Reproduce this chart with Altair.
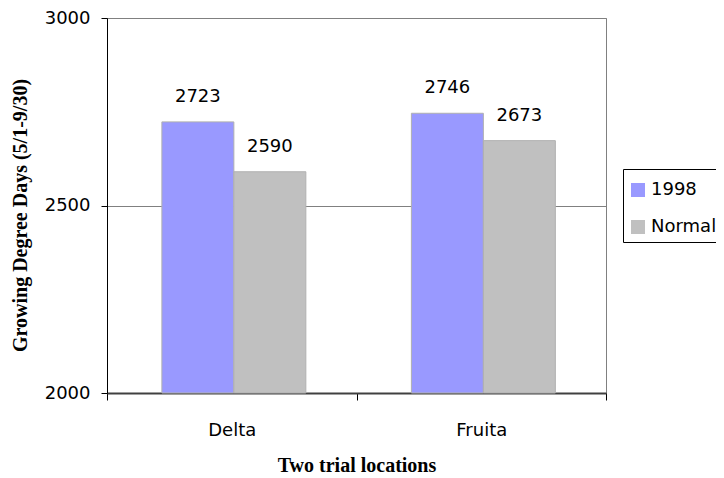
import altair as alt
import pandas as pd

locations = ["Delta", "Fruita"]
series = ["1998", "Normal"]
values_1998 = [2723, 2746]
values_normal = [2590, 2673]
colors = ["#9999FF", "#C0C0C0"]

rows = []
for i, loc in enumerate(locations):
    rows.append({"location": loc, "series": series[0], "value": values_1998[i]})
    rows.append({"location": loc, "series": series[1], "value": values_normal[i]})
df = pd.DataFrame(rows)

x_enc = alt.X(
    "location:N",
    sort=locations,
    scale=alt.Scale(paddingInner=0, paddingOuter=0),
    axis=alt.Axis(
        title="Two trial locations",
        labelAngle=0,
        tickBand="extent",
        tickSize=7,
        tickColor="#000000",
        domainColor="#404040",
        domainWidth=2,
        labelPadding=21,
        labelFont="DejaVu Sans",
        labelFontSize=18,
        labelColor="#000000",
        titleFont="Liberation Serif",
        titleFontSize=20,
        titleFontWeight="bold",
        titleColor="#000000",
        titlePadding=16,
        grid=False,
    ),
)
xoff = alt.XOffset(
    "series:N",
    sort=series,
    scale=alt.Scale(paddingInner=0, paddingOuter=0.733, align=0.52),
)

y_enc = alt.Y(
    "value:Q",
    scale=alt.Scale(domain=[2000, 3000], zero=False, nice=False),
    axis=alt.Axis(
        title="Growing Degree Days (5/1-9/30)",
        values=[2000, 2500, 3000],
        format="d",
        tickSize=6,
        tickColor="#000000",
        domainColor="#000000",
        labelPadding=11,
        labelFont="DejaVu Sans",
        labelFontSize=18,
        labelColor="#000000",
        titleFont="Liberation Serif",
        titleFontSize=20,
        titleFontWeight="bold",
        titleColor="#000000",
        titlePadding=14,
        titleY=197,
        grid=True,
        gridColor="#808080",
        gridWidth=1,
    ),
)

bars = alt.Chart(df).mark_bar(stroke="#B0B0B0", strokeWidth=1).encode(
    x=x_enc,
    xOffset=xoff,
    y=y_enc,
    y2=alt.datum(2000),
    color=alt.Color(
        "series:N",
        sort=series,
        scale=alt.Scale(domain=series, range=colors),
        legend=alt.Legend(
            orient="none",
            legendX=516,
            legendY=151,
            title=" ",
            titleFontSize=6,
            titlePadding=0,
            strokeColor="#000000",
            fillColor="#FFFFFF",
            padding=6,
            rowPadding=19,
            symbolType="square",
            symbolSize=196,
            symbolStrokeWidth=0,
            labelFont="DejaVu Sans",
            labelFontSize=18,
            labelColor="#000000",
            labelOffset=4,
        ),
    ),
)

labels = alt.Chart(df).mark_text(
    font="DejaVu Sans", fontSize=18, color="#000000", baseline="middle", dy=-25
).encode(
    x=alt.X("location:N", sort=locations),
    xOffset=xoff,
    y="value:Q",
    text=alt.Text("value:Q", format="d"),
)

chart = (
    alt.layer(bars, labels)
    .properties(
        width=499,
        height=375,
        autosize=alt.AutoSizeParams(type="none"),
        padding={"left": 99, "top": 10, "right": 110, "bottom": 83},
        background="#FFFFFF",
    )
    .configure_view(stroke="#808080", strokeWidth=1)
)

chart.save("out.html", embed_options={"renderer": "svg", "actions": False})
